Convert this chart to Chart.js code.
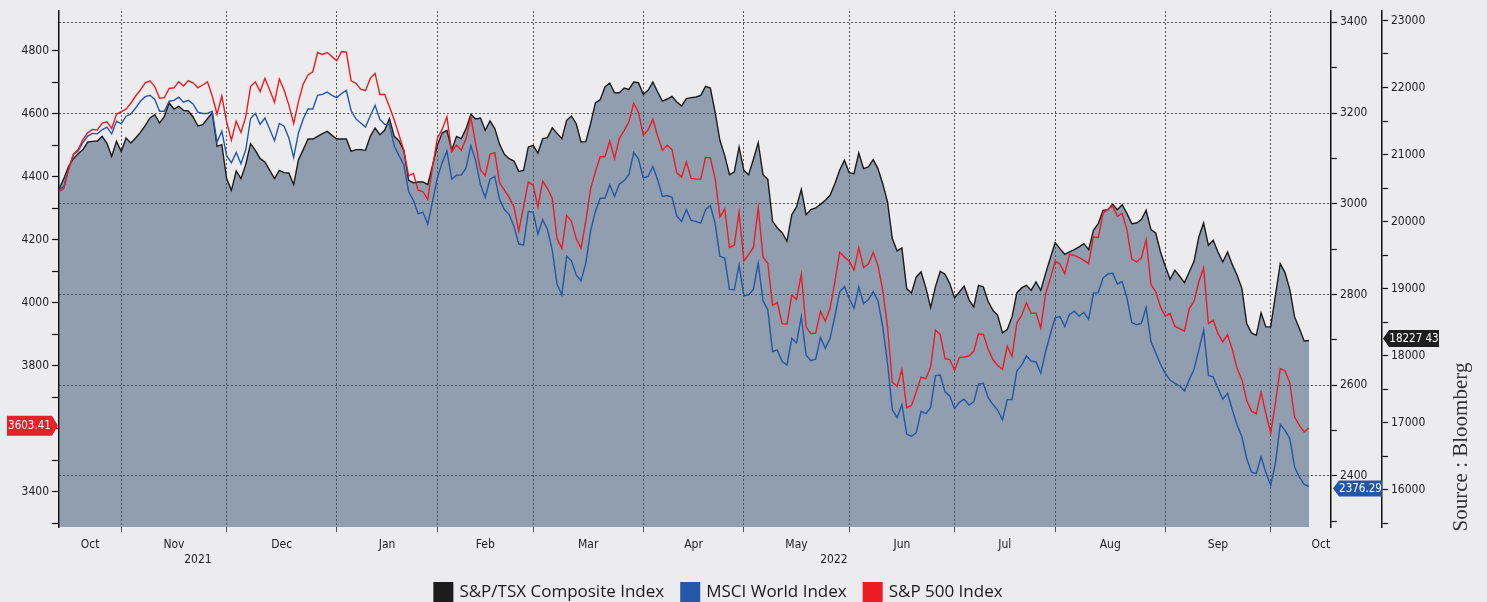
<!DOCTYPE html>
<html>
<head>
<meta charset="utf-8">
<script src="https://cdn.jsdelivr.net/npm/chart.js@4.4.1/dist/chart.umd.min.js"></script>
<style>
  html, body { margin: 0; padding: 0; background: #ececee; }
  #wrap { width: 1487px; height: 602px; }
</style>
</head>
<body>
<div id="wrap"><canvas id="indexChart" width="1487" height="602"></canvas></div>
<script>
// weekday index of the first point (Oct 13 2021), one point per weekday
const firstDay = 8;

// S&P/TSX Composite Index (outer right axis)
const tsx = [
  20482, 20641, 20824, 20939, 21013, 21073, 21187, 21197, 21202, 21271, 21172, 20973, 21197, 21048, 21247, 21172, 21247, 21331, 21430, 21545,
  21594, 21470, 21569, 21768, 21679, 21719, 21659, 21649, 21560, 21425, 21445, 21535, 21624, 21122, 21147, 20641, 20467, 20755, 20641, 20854,
  21162, 21063, 20939, 20889, 20765, 20641, 20765, 20730, 20725, 20551, 20924, 21073, 21232, 21232, 21271, 21311, 21346, 21286, 21232, 21232,
  21232, 21048, 21073, 21073, 21063, 21271, 21396, 21296, 21361, 21535, 21271, 21202, 21063, 20616, 20581, 20591, 20591, 20551, 20839, 21137,
  21321, 21361, 21063, 21271, 21237, 21386, 21599, 21530, 21545, 21361, 21500, 21386, 21152, 21003, 20939, 20904, 20750, 20765, 21113, 21137,
  21023, 21237, 21252, 21398, 21316, 21237, 21510, 21575, 21460, 21187, 21192, 21460, 21768, 21818, 22007, 22066, 21922, 21922, 21992, 21972,
  22081, 22071, 21897, 21957, 22081, 21932, 21798, 21828, 21868, 21783, 21724, 21833, 21848, 21858, 21882, 22017, 21992, 21634, 21212, 20988,
  20700, 20740, 21113, 20765, 20700, 20929, 21177, 20700, 20631, 20005, 19906, 19836, 19707, 20104, 20219, 20482, 20104, 20179, 20204, 20258,
  20318, 20392, 20566, 20765, 20914, 20730, 20715, 21023, 20790, 20815, 20924, 20790, 20566, 20293, 19747, 19563, 19608, 19002, 18937, 19176,
  19250, 19017, 18719, 19027, 19260, 19215, 19076, 18863, 18952, 19037, 18838, 18728, 19051, 19027, 18813, 18679, 18604, 18341, 18391, 18580,
  18937, 19012, 19051, 18977, 19101, 18977, 19225, 19459, 19687, 19598, 19513, 19548, 19583, 19623, 19672, 19583, 19871, 19970, 20169, 20179,
  20258, 20179, 20253, 20119, 19970, 19980, 20030, 20169, 19881, 19831, 19548, 19335, 19141, 19275, 19186, 19091, 19250, 19409, 19772, 19980,
  19647, 19722, 19548, 19399, 19548, 19359, 19200, 19002, 18480, 18341, 18306, 18639, 18431, 18431, 18902, 19374, 19240, 18987, 18580, 18406,
  18222, 18227.43
];

// MSCI World Index (inner right axis)
const msci = [
  3031, 3038, 3077, 3108, 3116, 3135, 3149, 3155, 3154, 3163, 3169, 3154, 3182, 3176, 3193, 3198, 3211, 3226, 3236, 3239,
  3230, 3204, 3204, 3226, 3228, 3235, 3224, 3228, 3220, 3202, 3199, 3199, 3204, 3136, 3160, 3106, 3090, 3113, 3088, 3119,
  3188, 3199, 3175, 3189, 3164, 3139, 3177, 3171, 3145, 3102, 3156, 3187, 3209, 3209, 3239, 3241, 3246, 3239, 3234, 3243,
  3250, 3205, 3187, 3178, 3169, 3194, 3217, 3186, 3175, 3175, 3127, 3106, 3086, 3027, 3007, 2978, 2981, 2955, 3005, 3057,
  3090, 3116, 3054, 3063, 3063, 3079, 3128, 3095, 3042, 3014, 3054, 3060, 3009, 2987, 2976, 2950, 2911, 2909, 2983, 2981,
  2933, 2965, 2943, 2897, 2822, 2799, 2884, 2874, 2843, 2830, 2869, 2940, 2983, 3012, 3012, 3042, 3016, 3043, 3051, 3064,
  3113, 3099, 3057, 3060, 3082, 3053, 3016, 3018, 3014, 2973, 2961, 2987, 2963, 2961, 2957, 2987, 2996, 2957, 2884, 2880,
  2811, 2810, 2865, 2797, 2799, 2811, 2869, 2786, 2766, 2674, 2677, 2652, 2644, 2703, 2693, 2751, 2666, 2654, 2657, 2705,
  2681, 2703, 2751, 2805, 2817, 2791, 2769, 2816, 2780, 2788, 2806, 2786, 2729, 2648, 2546, 2528, 2557, 2492, 2487, 2495,
  2542, 2537, 2550, 2621, 2622, 2585, 2576, 2548, 2562, 2569, 2556, 2563, 2602, 2604, 2573, 2557, 2545, 2523, 2568, 2568,
  2631, 2644, 2664, 2653, 2651, 2626, 2674, 2712, 2749, 2751, 2729, 2756, 2763, 2752, 2760, 2745, 2803, 2804, 2836, 2845,
  2847, 2823, 2828, 2792, 2738, 2733, 2736, 2771, 2696, 2671, 2646, 2626, 2611, 2604, 2598, 2587, 2612, 2635, 2677, 2721,
  2621, 2618, 2593, 2569, 2582, 2545, 2512, 2486, 2438, 2408, 2405, 2442, 2407, 2379, 2428, 2513, 2500, 2482, 2419, 2397,
  2381, 2376.29
];

// S&P 500 Index (left axis)
const spx = [
  4353, 4363, 4422, 4472, 4487, 4519, 4540, 4551, 4549, 4570, 4575, 4554, 4599, 4607, 4615, 4634, 4657, 4676, 4699, 4705,
  4687, 4650, 4652, 4681, 4683, 4702, 4689, 4706, 4699, 4683, 4692, 4702, 4657, 4599, 4657, 4575, 4517, 4577, 4541, 4591,
  4687, 4702, 4671, 4713, 4676, 4637, 4711, 4676, 4628, 4570, 4639, 4695, 4724, 4734, 4795, 4789, 4795, 4782, 4769, 4798,
  4796, 4705, 4697, 4679, 4674, 4713, 4729, 4662, 4662, 4623, 4581, 4533, 4485, 4403, 4411, 4358, 4353, 4328, 4432, 4522,
  4551, 4591, 4480, 4501, 4485, 4522, 4589, 4506, 4422, 4404, 4472, 4477, 4381, 4358, 4334, 4305, 4228, 4305, 4384, 4374,
  4305, 4387, 4363, 4332, 4203, 4173, 4278, 4259, 4204, 4173, 4259, 4363, 4416, 4464, 4464, 4514, 4459, 4522, 4547, 4575,
  4634, 4605, 4533, 4549, 4583, 4530, 4485, 4501, 4487, 4413, 4400, 4448, 4395, 4393, 4393, 4462, 4461, 4395, 4273, 4298,
  4176, 4183, 4289, 4133, 4153, 4176, 4302, 4146, 4125, 3992, 4001, 3934, 3932, 4024, 4011, 4090, 3923, 3902, 3904, 3973,
  3942, 3982, 4066, 4160, 4146, 4132, 4104, 4176, 4112, 4123, 4160, 4119, 4040, 3923, 3748, 3735, 3788, 3667, 3674, 3717,
  3764, 3759, 3796, 3913, 3900, 3823, 3820, 3786, 3826, 3828, 3831, 3846, 3902, 3900, 3854, 3820, 3801, 3789, 3862, 3830,
  3936, 3960, 4000, 3966, 3968, 3920, 4029, 4077, 4132, 4123, 4093, 4154, 4151, 4144, 4135, 4125, 4210, 4207, 4284, 4297,
  4308, 4275, 4284, 4231, 4139, 4130, 4143, 4201, 4059, 4035, 3987, 3957, 3966, 3925, 3918, 3910, 3982, 4005, 4067, 4111,
  3934, 3945, 3902, 3876, 3899, 3851, 3791, 3756, 3690, 3656, 3648, 3717, 3648, 3586, 3682, 3791, 3784, 3746, 3637, 3611,
  3590, 3603.41
];

const days = tsx.map((_, k) => firstDay + k);

// axis labels
const monthNames = ['Oct', 'Nov', 'Dec', 'Jan', 'Feb', 'Mar', 'Apr', 'May', 'Jun', 'Jul', 'Aug', 'Sep', 'Oct'];
const monthBounds = [8, 21, 43, 66, 87, 107, 130, 151, 173, 195, 216, 239, 261, 282];
const yearNames = ['2021', '2022'];
const yearSpans = [[8, 66], [66, 273.6]];
const spxTicks = [3400, 3600, 3800, 4000, 4200, 4400, 4600, 4800];
const msciTicks = [2400, 2600, 2800, 3000, 3200, 3400];
const tsxTicks = [16000, 17000, 18000, 19000, 20000, 21000, 22000, 23000];

const FONT = '"DejaVu Sans Condensed", "Liberation Sans Narrow", "Liberation Sans", sans-serif';
const gridEdges = monthBounds.slice(1, -1);

const xLabels = new Map();
gridEdges.forEach(v => xLabels.set(v, ''));
monthNames.forEach((m, k) => xLabels.set((monthBounds[k] + monthBounds[k + 1]) / 2, m));
yearNames.forEach((y, k) => xLabels.set((yearSpans[k][0] + yearSpans[k][1]) / 2, ['', y]));

function withMinor(major, step) {
  const out = [];
  major.forEach(v => { out.push(v - step); out.push(v); });
  return out.map(v => ({ value: v }));
}

function drawTag(ctx, text, tipX, y, w, h, color, dir) {
  const a = 6;
  ctx.save();
  ctx.fillStyle = color;
  ctx.beginPath();
  ctx.moveTo(tipX, y);
  ctx.lineTo(tipX - dir * a, y - h / 2);
  ctx.lineTo(tipX - dir * (a + w), y - h / 2);
  ctx.lineTo(tipX - dir * (a + w), y + h / 2);
  ctx.lineTo(tipX - dir * a, y + h / 2);
  ctx.closePath();
  ctx.fill();
  ctx.fillStyle = '#ffffff';
  ctx.font = '11.5px ' + FONT;
  ctx.textAlign = 'center';
  ctx.textBaseline = 'middle';
  ctx.fillText(text, tipX - dir * (a + w / 2), y + 0.5);
  ctx.restore();
}

const extras = {
  id: 'extras',
  afterDraw(chart) {
    const { ctx, scales } = chart;
    const last = tsx.length - 1;
    drawTag(ctx, spx[last].toFixed(2), scales.ySpx.right - 1, scales.ySpx.getPixelForValue(spx[last]) - 2, 45, 20, '#e8202a', 1);
    drawTag(ctx, msci[last].toFixed(2), scales.yMsci.left + 2, scales.yMsci.getPixelForValue(msci[last]) + 2, 43, 16, '#2456a6', -1);
    drawTag(ctx, '18227 43', scales.yTsx.left + 1, scales.yTsx.getPixelForValue(tsx[last]) - 2, 50, 17, '#1e1e1e', -1);

    // legend
    const items = chart.data.datasets.map(ds => ({ text: ds.label, color: ds.borderColor }));
    ctx.save();
    ctx.font = '17px "Open Sans", "Noto Sans", sans-serif';
    ctx.textBaseline = 'middle';
    ctx.textAlign = 'left';
    const box = 20, gapText = 6, gapItem = 16;
    const widths = items.map(it => box + gapText + ctx.measureText(it.text).width);
    const total = widths.reduce((s, w) => s + w, 0) + gapItem * (items.length - 1);
    let x = 718 - total / 2;
    const yMid = 592;
    items.forEach((it, k) => {
      ctx.fillStyle = it.color;
      ctx.fillRect(x, yMid - box / 2, box, box);
      ctx.fillStyle = '#1a1a1a';
      ctx.fillText(it.text, x + box + gapText, yMid);
      x += widths[k] + gapItem;
    });
    ctx.restore();

    ctx.save();
    ctx.translate(1467, 447);
    ctx.rotate(-Math.PI / 2);
    ctx.fillStyle = '#333333';
    ctx.font = '21px "Liberation Serif", "DejaVu Serif", serif';
    ctx.textAlign = 'center';
    ctx.textBaseline = 'alphabetic';
    ctx.fillText('Source : Bloomberg', 0, 0);
    ctx.restore();
  }
};

const tickFont = { family: FONT, size: 12 };

new Chart(document.getElementById('indexChart'), {
  type: 'line',
  data: {
    labels: days,
    datasets: [
      {
        label: 'S&P/TSX Composite Index',
        data: tsx,
        yAxisID: 'yTsx',
        borderColor: '#1b1b1b',
        backgroundColor: 'rgba(52, 80, 112, 0.5)',
        fill: 'start',
        order: 3
      },
      {
        label: 'MSCI World Index',
        data: msci,
        yAxisID: 'yMsci',
        borderColor: '#2457a8',
        backgroundColor: '#2457a8',
        fill: false,
        order: 2
      },
      {
        label: 'S&P 500 Index',
        data: spx,
        yAxisID: 'ySpx',
        borderColor: '#ed1c24',
        backgroundColor: '#ed1c24',
        fill: false,
        order: 1
      }
    ]
  },
  options: {
    responsive: false,
    animation: false,
    layout: { padding: { top: 11, right: 45, left: 0, bottom: 28 } },
    elements: {
      point: { radius: 0 },
      line: { borderWidth: 1.4, tension: 0 }
    },
    plugins: {
      tooltip: { enabled: false },
      legend: { display: false }
    },
    scales: {
      x: {
        type: 'linear',
        min: 8,
        max: 273.6,
        afterBuildTicks: s => { s.ticks = Array.from(xLabels.keys()).sort((a, b) => a - b).map(v => ({ value: v })); },
        afterFit: s => { s.height = 47; },
        ticks: {
          autoSkip: false,
          maxRotation: 0,
          minRotation: 0,
          padding: 6,
          color: '#222',
          font: tickFont,
          callback: v => xLabels.get(v)
        },
        grid: {
          color: c => gridEdges.includes(c.tick && c.tick.value) ? '#555' : 'rgba(0,0,0,0)',
          tickColor: c => gridEdges.includes(c.tick && c.tick.value) ? '#555' : 'rgba(0,0,0,0)',
          lineWidth: 1,
          tickLength: 5
        },
        border: { display: false, dash: [2, 2] }
      },
      ySpx: {
        position: 'left',
        min: 3288,
        max: 4927,
        afterBuildTicks: s => { s.ticks = withMinor(spxTicks, 100).filter(t => t.value > 3288); },
        afterFit: s => { s.width = 59; },
        ticks: { padding: 3, color: '#222', font: tickFont, callback: v => spxTicks.includes(v) ? String(v) : '' },
        grid: { drawOnChartArea: false, tickLength: 7, tickColor: '#111', tickWidth: 1.2 },
        border: { color: '#111', width: 1.5 }
      },
      yMsci: {
        position: 'right',
        min: 2287,
        max: 3425,
        afterBuildTicks: s => { s.ticks = withMinor(msciTicks, 100).filter(t => t.value > 2287); },
        afterFit: s => { s.width = 51; },
        ticks: { padding: 3, color: '#222', font: tickFont, callback: v => msciTicks.includes(v) ? String(v) : '' },
        grid: {
          color: c => msciTicks.includes(c.tick && c.tick.value) ? '#555' : 'rgba(0,0,0,0)',
          lineWidth: 1,
          tickLength: 6,
          tickColor: '#111',
          tickWidth: 1.2
        },
        border: { color: '#111', width: 1.5, dash: [2, 2] }
      },
      yTsx: {
        position: 'right',
        min: 15448,
        max: 23140,
        afterBuildTicks: s => { s.ticks = withMinor(tsxTicks, 500).filter(t => t.value > 15448); },
        afterFit: s => { s.width = 60; },
        ticks: { padding: 3, color: '#222', font: tickFont, callback: v => tsxTicks.includes(v) ? String(v) : '' },
        grid: { drawOnChartArea: false, tickLength: 6, tickColor: '#111', tickWidth: 1.2 },
        border: { color: '#111', width: 1.5 }
      }
    }
  },
  plugins: [extras]
});
</script>
</body>
</html>
